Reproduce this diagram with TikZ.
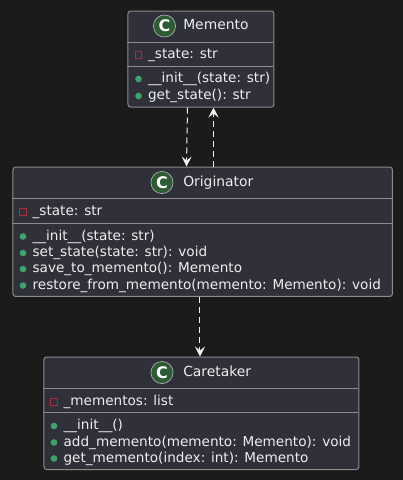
\documentclass[tikz,border=0pt]{standalone}
\usepackage{fontspec}
\setmainfont{DejaVu Sans}
\definecolor{canvasBg}{HTML}{1B1B1B}
\definecolor{classFill}{HTML}{2F3039}
\definecolor{classLine}{HTML}{8C8C8C}
\definecolor{classText}{HTML}{EEEEEE}
\definecolor{circleGreen}{HTML}{2C5B34}
\definecolor{privRed}{HTML}{B02A3C}
\definecolor{pubGreen}{HTML}{3FA36B}
\usetikzlibrary{positioning,calc,arrows.meta}
\tikzset{
    classbox/.style={rectangle,rounded corners=2pt,fill=classFill,draw=classLine,line width=0.75pt,inner sep=0pt,anchor=north west},
    classtitle/.style={text=classText,font=\fontsize{10.4}{12}\selectfont,inner sep=0pt,text height=7.6pt,text depth=2pt,anchor=west},
    membertext/.style={text=classText,font=\fontsize{10.2}{12}\selectfont,inner sep=0pt,text height=7.4pt,text depth=1.6pt,anchor=west},
    classcircle/.style={circle,fill=circleGreen,draw=classLine!70!white,line width=0.5pt,minimum size=16.6pt,inner sep=0pt,text=white,font=\fontsize{12}{12}\selectfont\bfseries},
    privmark/.style={rectangle,draw=privRed,line width=0.7pt,minimum size=4.8pt,inner sep=0pt},
    pubmark/.style={circle,fill=pubGreen,minimum size=5pt,inner sep=0pt},
    divider/.style={draw=classLine,line width=0.75pt},
    dependency/.style={draw=classText,line width=0.75pt,dash pattern=on 4.5pt off 3pt,-{Stealth[length=7.5pt,width=7.5pt,inset=3pt]}},
}
\begin{document}
\begin{tikzpicture}[x=0.75pt,y=-0.75pt]
    \useasboundingbox[fill=canvasBg] (0,0) rectangle (403,480);

    % Memento
    \node[classbox,minimum width=109.5pt,minimum height=72pt] (memento) at (127.5,10.5) {};
    \draw[divider] (127.5,42.5) -- (273.5,42.5);
    \draw[divider] (127.5,66.5) -- (273.5,66.5);
    \node[classcircle] (mementoC) at (164.5,26) {C};
    \node[classtitle] (mementoT) at (183,26) {Memento};
    \node[privmark] (mementoP1) at (138.5,55) {};
    \node[membertext,right=4.3pt of mementoP1] (mementoM1) {\_state: str};
    \node[pubmark] (mementoP2) at (138.5,79) {};
    \node[membertext,right=4.3pt of mementoP2] (mementoM2) {\_\_init\_\_(state: str)};
    \node[pubmark] (mementoP3) at (138.5,96) {};
    \node[membertext,right=4.3pt of mementoP3] (mementoM3) {get\_state(): str};

    % Originator
    \node[classbox,minimum width=284.6pt,minimum height=97.1pt] (originator) at (12.5,166.5) {};
    \draw[divider] (12.5,198.5) -- (392,198.5);
    \draw[divider] (12.5,223.5) -- (392,223.5);
    \node[classcircle] (originatorC) at (162,182.5) {C};
    \node[classtitle] (originatorT) at (183,182.5) {Originator};
    \node[privmark] (originatorP1) at (23,212) {};
    \node[membertext,right=4.3pt of originatorP1] (originatorM1) {\_state: str};
    \node[pubmark] (originatorP2) at (23,236.5) {};
    \node[membertext,right=4.3pt of originatorP2] (originatorM2) {\_\_init\_\_(state: str)};
    \node[pubmark] (originatorP3) at (23,253) {};
    \node[membertext,right=4.3pt of originatorP3] (originatorM3) {set\_state(state: str): void};
    \node[pubmark] (originatorP4) at (23,269) {};
    \node[membertext,right=4.3pt of originatorP4] (originatorM4) {save\_to\_memento(): Memento};
    \node[pubmark] (originatorP5) at (23,285.5) {};
    \node[membertext,right=4.3pt of originatorP5] (originatorM5) {restore\_from\_memento(memento: Memento): void};

    % Caretaker
    \node[classbox,minimum width=236.2pt,minimum height=84.4pt] (caretaker) at (43.5,356.5) {};
    \draw[divider] (43.5,388.5) -- (358.5,388.5);
    \draw[divider] (43.5,412.5) -- (358.5,412.5);
    \node[classcircle] (caretakerC) at (162,372.5) {C};
    \node[classtitle] (caretakerT) at (183,372.5) {Caretaker};
    \node[privmark] (caretakerP1) at (54,402) {};
    \node[membertext,right=4.3pt of caretakerP1] (caretakerM1) {\_mementos: list};
    \node[pubmark] (caretakerP2) at (54,426) {};
    \node[membertext,right=4.3pt of caretakerP2] (caretakerM2) {\_\_init\_\_()};
    \node[pubmark] (caretakerP3) at (54,442.5) {};
    \node[membertext,right=4.3pt of caretakerP3] (caretakerM3) {add\_memento(memento: Memento): void};
    \node[pubmark] (caretakerP4) at (54,458.5) {};
    \node[membertext,right=4.3pt of caretakerP4] (caretakerM4) {get\_memento(index: int): Memento};

    % dependencies
    \draw[dependency] (memento.south -| 187.5,0) -- (originator.north -| 186.5,0);
    \draw[dependency] (originator.north -| 213.5,0) -- (memento.south -| 213.5,0);
    \draw[dependency] (originator.south -| 200,0) -- (caretaker.north -| 200,0);
\end{tikzpicture}
\end{document}
